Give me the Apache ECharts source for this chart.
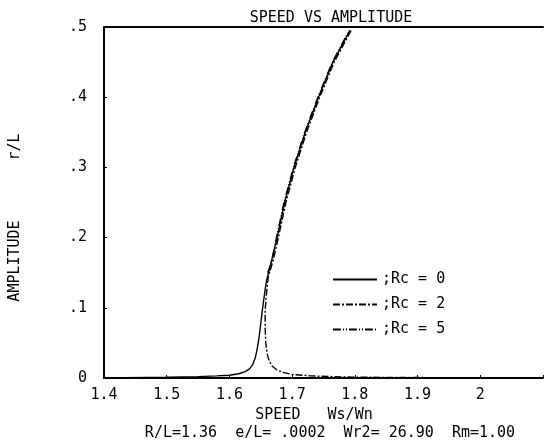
<!DOCTYPE html>
<html><head><meta charset="utf-8">
<script src="https://cdn.jsdelivr.net/npm/echarts@6/dist/echarts.min.js"></script>
<style>html,body{margin:0;padding:0;background:#fff}#c{width:546px;height:448px}</style>
</head><body><div id="c"></div>
<script>
// Tick values
var xTicks = [1.4, 1.5, 1.6, 1.7, 1.8, 1.9, 2.0];
var yTicks = [0, 0.1, 0.2, 0.3, 0.4, 0.5];
var legendNames = [';Rc = 0', ';Rc = 2', ';Rc = 5'];

// Rc = 0 : left branch rising into backbone
var rc0X = [1.40, 1.50, 1.55, 1.58, 1.60, 1.615, 1.625, 1.632, 1.637, 1.641, 1.644, 1.647, 1.650, 1.653, 1.656, 1.659, 1.663, 1.668, 1.676, 1.688, 1.703, 1.721, 1.742, 1.765, 1.792];
var rc0Y = [0.000, 0.001, 0.002, 0.003, 0.004, 0.006, 0.009, 0.013, 0.019, 0.028, 0.040, 0.056, 0.078, 0.100, 0.120, 0.138, 0.152, 0.170, 0.200, 0.250, 0.300, 0.350, 0.400, 0.450, 0.495];

// Rc = 2 : backbone down into right branch
var rc2X = [1.794, 1.767, 1.744, 1.723, 1.705, 1.690, 1.678, 1.669, 1.662, 1.659, 1.657, 1.657, 1.658, 1.660, 1.663, 1.668, 1.675, 1.685, 1.700, 1.730, 1.780, 1.850, 2.100];
var rc2Y = [0.495, 0.450, 0.400, 0.350, 0.300, 0.250, 0.200, 0.165, 0.145, 0.120, 0.097, 0.070, 0.050, 0.035, 0.025, 0.017, 0.012, 0.008, 0.005, 0.003, 0.0015, 0.0008, 0.000];

// Rc = 5 : backbone nearly coincident
var rc5X = [1.661, 1.667, 1.675, 1.687, 1.702, 1.720, 1.741, 1.764, 1.791];
var rc5Y = [0.150, 0.165, 0.200, 0.250, 0.300, 0.350, 0.400, 0.450, 0.495];
var rc5TailX = [1.40, 2.10];
var rc5TailY = [0.000, 0.000];

function pairs(xs, ys){ return xs.map(function(x,i){ return [x, ys[i]]; }); }

var FONT = 'DejaVu Sans Mono';
var FS = 15;
var chart = echarts.init(document.getElementById('c'), null, {renderer:'canvas'});
chart.setOption({
  animation:false,
  backgroundColor:'#ffffff',
  title:{text:'SPEED VS AMPLITUDE', left:326, textAlign:'center', top:6,
    textStyle:{fontFamily:FONT, fontSize:FS, fontWeight:'normal', color:'#000'}},
  grid:{left:104, right:0, top:27, bottom:70, containLabel:false},
  legend:{orient:'vertical', left:327, top:267, itemWidth:44, itemHeight:14, itemGap:10, itemTextGap:11,
    data:legendNames, itemStyle:{opacity:0},
    textStyle:{fontFamily:FONT, fontSize:FS, color:'#000'}},
  xAxis:[{type:'value', min:1.4, max:2.1, interval:0.1, position:'bottom',
    axisLine:{show:true, onZero:false, lineStyle:{color:'#000', width:2}},
    axisTick:{show:true, inside:true, length:3, lineStyle:{color:'#000'}},
    axisLabel:{margin:10, fontFamily:FONT, fontSize:FS, color:'#000',
      formatter:function(v){ var r=Math.round(v*10)/10; if(r>2.05) return ''; return xTicks.indexOf(r)>=0 ? (r===2?'2':r.toFixed(1)) : ''; }},
    splitLine:{show:false}},
   {type:'value', min:1.4, max:2.1, position:'top',
    axisLine:{show:true, onZero:false, lineStyle:{color:'#000', width:2}},
    axisTick:{show:false}, axisLabel:{show:false}, splitLine:{show:false}}],
  yAxis:{type:'value', min:0, max:0.5, interval:0.1,
    axisLine:{show:true, lineStyle:{color:'#000', width:2}},
    axisTick:{show:true, inside:true, length:3, lineStyle:{color:'#000'}},
    axisLabel:{margin:17, fontFamily:FONT, fontSize:FS, color:'#000',
      formatter:function(v){ var r=Math.round(v*10)/10; if(yTicks.indexOf(r)<0) return ''; return r===0?'0':'.'+Math.round(r*10); }},
    splitLine:{show:false}},
  series:[
    {name:legendNames[0], type:'line', symbol:'circle', showSymbol:false, data:pairs(rc0X, rc0Y),
      lineStyle:{color:'#000', width:1.4, type:'solid'}, itemStyle:{color:'#000'}},
    {name:legendNames[1], type:'line', symbol:'circle', showSymbol:false, data:pairs(rc2X, rc2Y),
      lineStyle:{color:'#000', width:1.4, type:[7,2,2,2]}, itemStyle:{color:'#000'}},
    {name:legendNames[2], type:'line', symbol:'circle', showSymbol:false, data:pairs(rc5X, rc5Y),
      lineStyle:{color:'#000', width:1.4, type:[8,2,1,2,1,2]}, itemStyle:{color:'#000'}},
    {name:'tail5', type:'line', symbol:'none', data:pairs(rc5TailX, rc5TailY),
      lineStyle:{color:'#000', width:1.2}, silent:true}
  ],
  graphic:[
    {type:'text', x:15, y:261, rotation:Math.PI/2, style:{text:'AMPLITUDE', fontFamily:FONT, fontSize:FS, fill:'#000', align:'center', verticalAlign:'middle'}},
    {type:'text', x:15, y:147, rotation:Math.PI/2, style:{text:'r/L', fontFamily:FONT, fontSize:FS, fill:'#000', align:'center', verticalAlign:'middle'}},
    {type:'text', x:314, y:415, style:{text:'SPEED   Ws/Wn', fontFamily:FONT, fontSize:FS, fill:'#000', align:'center', verticalAlign:'middle'}},
    {type:'text', x:330, y:433, style:{text:'R/L=1.36  e/L= .0002  Wr2= 26.90  Rm=1.00', fontFamily:FONT, fontSize:FS, fill:'#000', align:'center', verticalAlign:'middle'}}
  ]
});
</script></body></html>
